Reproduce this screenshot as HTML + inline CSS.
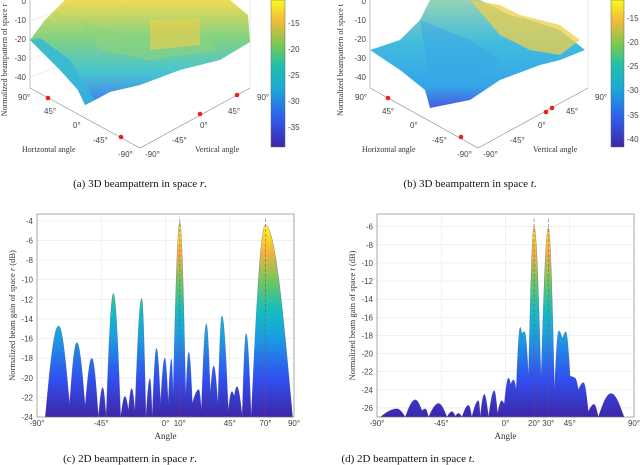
<!DOCTYPE html>
<html><head><meta charset="utf-8"><style>
html,body{margin:0;padding:0;background:#fff;width:640px;height:465px;overflow:hidden}
svg{display:block}
.tk{font-family:"Liberation Sans",sans-serif;font-size:8px;fill:#444}
.sf{font-family:"Liberation Serif",serif;fill:#333}
.cap{font-family:"Liberation Serif",serif;font-size:11px;fill:#111}
</style></head><body>
<svg id="fig" width="640" height="465" viewBox="0 0 640 465">
<defs>
<linearGradient id="parula" x1="0" y1="1" x2="0" y2="0">
<stop offset="0" stop-color="#3e26a8"/><stop offset="0.2" stop-color="#2f5fef"/>
<stop offset="0.4" stop-color="#1ba9d8"/><stop offset="0.55" stop-color="#1fc0aa"/>
<stop offset="0.7" stop-color="#7bca52"/><stop offset="0.85" stop-color="#f1b83a"/>
<stop offset="1" stop-color="#f9f91e"/></linearGradient>
<linearGradient id="surfA" x1="0" y1="0" x2="0" y2="1">
<stop offset="0" stop-color="#f2d84a"/><stop offset="0.35" stop-color="#7fd07a"/>
<stop offset="0.7" stop-color="#3cc1d0"/><stop offset="1" stop-color="#3b6ff0"/></linearGradient>
<linearGradient id="surfB" x1="0" y1="0" x2="0" y2="1">
<stop offset="0" stop-color="#8fd0b0"/><stop offset="0.4" stop-color="#36b8dc"/>
<stop offset="0.8" stop-color="#2aa0e6"/><stop offset="1" stop-color="#4050e0"/></linearGradient>
</defs>

<g>
<line x1="30" y1="0" x2="30" y2="88" stroke="#999" stroke-width="0.6"/>
<g stroke="#ddd" stroke-width="0.5"><line x1="30" y1="21" x2="140" y2="-20"/><line x1="30" y1="40" x2="140" y2="0"/><line x1="30" y1="59" x2="140" y2="20"/><line x1="30" y1="77" x2="140" y2="38"/></g>
<polyline points="30,88 140,148 250,88" fill="none" stroke="#888" stroke-width="0.6"/>
<line x1="250" y1="0" x2="250" y2="88" stroke="#ccc" stroke-width="0.5"/>
<polygon points="30,40 45,20 60,5 65,0 180,0 230,0 248,15 250,42 220,60 180,70 140,85 110,92 95,100 85,105 78,90 60,70" fill="url(#surfA)" opacity="0.95"/>
<polygon points="30,40 60,70 78,90 85,105 95,100 70,60 40,38" fill="#33b8d6" opacity="0.8"/>
<polygon points="80,20 140,40 200,30 220,50 150,60 100,50" fill="#8ed47a" opacity="0.55"/>
<polygon points="150,20 200,18 200,45 150,50" fill="#f0cf4a" opacity="0.6"/>
<text class="tk" x="26" y="4" text-anchor="end">0</text><text class="tk" x="26" y="23" text-anchor="end">-10</text>
<text class="tk" x="26" y="42" text-anchor="end">-20</text><text class="tk" x="26" y="61" text-anchor="end">-30</text>
<text class="tk" x="26" y="80" text-anchor="end">-40</text>
<text class="sf" font-size="8" transform="translate(7,60) rotate(-90)" text-anchor="middle">Normalized beampattern of space r</text>
<text class="tk" x="18" y="100">90°</text><text class="tk" x="44" y="114">45°</text><text class="tk" x="73" y="128">0°</text>
<text class="tk" x="93" y="143">-45°</text><text class="tk" x="118" y="157">-90°</text>
<text class="tk" x="145" y="157">-90°</text><text class="tk" x="172" y="143">-45°</text><text class="tk" x="200" y="128">0°</text>
<text class="tk" x="228" y="114">45°</text><text class="tk" x="257" y="100">90°</text>
<text class="sf" font-size="8" x="22" y="152">Horizontal angle</text>
<text class="sf" font-size="8" x="195" y="152">Vertical angle</text>
<g fill="#e82020"><circle cx="48" cy="98" r="2.3"/><circle cx="121" cy="137" r="2.3"/><circle cx="200" cy="114" r="2.3"/><circle cx="237" cy="95" r="2.3"/></g>
<rect x="271" y="0" width="14" height="147" fill="url(#parula)" stroke="#666" stroke-width="0.5"/>
<text class="tk" x="288" y="26">-15</text><text class="tk" x="288" y="52">-20</text><text class="tk" x="288" y="78">-25</text>
<text class="tk" x="288" y="104">-30</text><text class="tk" x="288" y="130">-35</text>
</g>

<g>
<line x1="370" y1="0" x2="370" y2="88" stroke="#999" stroke-width="0.6"/>
<polyline points="370,88 478,148 588,88" fill="none" stroke="#888" stroke-width="0.6"/>
<line x1="588" y1="0" x2="588" y2="88" stroke="#ccc" stroke-width="0.5"/>
<polygon points="370,50 400,40 420,20 430,0 480,0 510,15 530,20 560,30 585,50 560,60 540,65 500,80 470,100 430,108 425,90 400,70" fill="url(#surfB)" opacity="0.95"/>
<polygon points="470,0 500,5 520,15 560,25 580,40 560,55 530,50 500,35" fill="#efcf4c" opacity="0.75"/>
<polygon points="420,20 470,40 500,60 470,80 430,80" fill="#3aa5e6" opacity="0.5"/>
<text class="tk" x="366" y="4" text-anchor="end">0</text><text class="tk" x="366" y="23" text-anchor="end">-10</text>
<text class="tk" x="366" y="42" text-anchor="end">-20</text><text class="tk" x="366" y="61" text-anchor="end">-30</text>
<text class="tk" x="366" y="80" text-anchor="end">-40</text>
<text class="sf" font-size="8" transform="translate(343,60) rotate(-90)" text-anchor="middle">Normalized beampattern of space t</text>
<text class="tk" x="355" y="100">90°</text><text class="tk" x="382" y="114">45°</text><text class="tk" x="410" y="128">0°</text>
<text class="tk" x="432" y="143">-45°</text><text class="tk" x="457" y="157">-90°</text>
<text class="tk" x="483" y="157">-90°</text><text class="tk" x="510" y="143">-45°</text><text class="tk" x="538" y="128">0°</text>
<text class="tk" x="566" y="114">45°</text><text class="tk" x="595" y="100">90°</text>
<text class="sf" font-size="8" x="362" y="152">Horizontal angle</text>
<text class="sf" font-size="8" x="533" y="152">Vertical angle</text>
<g fill="#e82020"><circle cx="388" cy="98" r="2.3"/><circle cx="461" cy="137" r="2.3"/><circle cx="546" cy="112" r="2.3"/><circle cx="552" cy="108" r="2.3"/></g>
<rect x="611" y="0" width="13" height="147" fill="url(#parula)" stroke="#666" stroke-width="0.5"/>
<text class="tk" x="627" y="21">-15</text><text class="tk" x="627" y="45">-20</text><text class="tk" x="627" y="69">-25</text>
<text class="tk" x="627" y="93">-30</text><text class="tk" x="627" y="118">-35</text><text class="tk" x="627" y="142">-40</text>
</g>

<text class="cap" x="140" y="187" text-anchor="middle">(a) 3D beampattern in space <tspan font-style="italic">r</tspan>.</text>
<text class="cap" x="470" y="187" text-anchor="middle">(b) 3D beampattern in space <tspan font-style="italic">t</tspan>.</text>
<text class="cap" x="130" y="462" text-anchor="middle">(c) 2D beampattern in space <tspan font-style="italic">r</tspan>.</text>
<text class="cap" x="408" y="462" text-anchor="middle">(d) 2D beampattern in space <tspan font-style="italic">t</tspan>.</text>

<g id="chartC"></g>
<g id="chartD"></g>
</svg>
<script>
const rAngles=[-84.2,-74.9,-67.2,-62.1,-56.3,-51.6,-47,-44,-41.6,-36.5,-31.4,-28.4,-26,-23.7,-21.4,-16.7,-13.7,-10.9,-9.3,-6.3,-3.5,-0.5,1.9,4.2,5.3,10,14.2,16.3,18.8,23.3,25.1,28.6,31.4,33.7,36.7,39.5,44,46.5,48.1,50,53.7,56.5,60,70,89];
const rGains=[-24,-14.7,-22.7,-16.4,-22.9,-18,-24,-21,-24,-11.4,-24,-21.9,-23.3,-21.1,-23.4,-11.9,-24,-20.1,-24,-17,-22.6,-18,-22.6,-18.1,-21.9,-4.1,-21.9,-17.4,-22.6,-21.2,-23.3,-14.5,-21.6,-18.8,-22.7,-13.7,-23.3,-21.4,-21.9,-20.9,-23.9,-15.5,-24,-4.4,-24];
const rTickVals=[-90,-45,0,10,45,70,90];
const rTickLabels=["-90°","-45°","0°","10°","45°","70°","90°"];
const rYTicks=[-24,-22,-20,-18,-16,-14,-12,-10,-8,-6,-4];
const rTargets=[10,70];

const tAngles=[-87.7,-76,-70.2,-63.2,-58.5,-56.2,-53.9,-46.9,-41,-37.5,-35.2,-32.9,-30.5,-25.9,-23.6,-18.9,-17.7,-14.9,-11.9,-7.9,-5.6,-2.6,-0.9,2.1,3.7,5.6,7.5,10.3,11.4,13.3,16.1,20,24.9,30,34.3,37.3,39.9,42.2,45.2,48.7,51,54.6,58,62,65,73.9,83];
const tGains=[-27,-26.1,-27,-25.1,-26.3,-26.1,-27,-25.5,-27,-26.4,-26.9,-26.6,-27,-25.7,-27,-25.2,-27,-24.5,-27,-24.1,-26.6,-25.2,-25.6,-22.7,-23.4,-22.9,-24,-17.1,-17.8,-17.6,-22.5,-5.9,-22.9,-6.1,-24,-17.5,-18.4,-17.6,-22.5,-22.7,-24,-23.2,-26.4,-25.6,-27,-24.4,-27];
const tTickVals=[-90,-45,0,20,30,45,90];
const tTickLabels=["-90°","-45°","0°","20°","30°","45°","90°"];
const tYTicks=[-26,-24,-22,-20,-18,-16,-14,-12,-10,-8,-6];
const tTargets=[20,30];

const NS="http://www.w3.org/2000/svg";
function mk(tag,attrs,parent){const e=document.createElementNS(NS,tag);for(const k in attrs)e.setAttribute(k,attrs[k]);parent.appendChild(e);return e;}

function drawChart(g,id,box,yMin,yMax,angles,gains,xt,xl,yt,targets,ylabel){
  const sx=a=>box.x0+(a+90)/180*(box.x1-box.x0);
  const sy=v=>box.y1-(v-yMin)/(yMax-yMin)*(box.y1-box.y0);
  const bg=mk('rect',{x:box.x0,y:box.y0,width:box.x1-box.x0,height:box.y1-box.y0,fill:'#fff'},g);
  
  
  yt.forEach(v=>{const l=mk('line',{x1:box.x0,x2:box.x1,y1:sy(v),y2:sy(v),stroke:'#e6e6e6','stroke-width':0.6},g);
    
    const t=mk('text',{x:box.x0-4,y:sy(v)+3,'text-anchor':'end',class:'tk'},g);t.textContent=v;
    });
  xt.forEach((a,i)=>{const l=mk('line',{x1:sx(a),x2:sx(a),y1:box.y0,y2:box.y1,stroke:'#e6e6e6','stroke-width':0.6},g);
    
    const t=mk('text',{x:sx(a),y:box.y1+9,'text-anchor':'middle',class:'tk'},g);t.textContent=xl[i];
    });
  const gid='grad'+id;
  const lg=mk('linearGradient',{id:gid,gradientUnits:'userSpaceOnUse',x1:0,y1:box.y1,x2:0,y2:sy(yMax-1)},document.querySelector('defs'));
  [['0','#3e26a8'],['0.2','#3050f0'],['0.42','#1aa0e0'],['0.55','#12bec0'],['0.7','#6cc860'],['0.85','#f2b43c'],['1','#f9f91e']].forEach(s=>mk('stop',{offset:s[0],'stop-color':s[1]},lg));
  let d='M'+sx(angles[0])+','+box.y1;
  for(let i=0;i<angles.length-1;i++){
    const a0=angles[i],a1=angles[i+1],v0=gains[i],v1=gains[i+1];
    for(let k=0;k<=12;k++){const t=k/12;const a=a0+(a1-a0)*t;
      const f=(v1>v0)?Math.sin(Math.PI*t/2):(1-Math.cos(Math.PI*t/2));
      const v=v0+(v1-v0)*f;
      d+=' L'+sx(a).toFixed(2)+','+Math.min(box.y1,sy(v)).toFixed(2);}
  }
  d+=' L'+sx(angles[angles.length-1])+','+box.y1+' Z';
  const p=mk('path',{d:d,fill:'url(#'+gid+')',stroke:'#4a4a9a','stroke-width':0.3},g);
  
  
  targets.forEach(a=>{const l=mk('line',{x1:sx(a),x2:sx(a),y1:box.y1,y2:box.y0+4,stroke:'#c0392b','stroke-width':0.7,'stroke-dasharray':'3,2',opacity:0.7},g);
    });
  const fr=mk('rect',{x:box.x0,y:box.y0,width:box.x1-box.x0,height:box.y1-box.y0,fill:'none',stroke:'#777','stroke-width':0.6},g);
  
  const xt2=mk('text',{x:(box.x0+box.x1)/2,y:box.y1+22,'text-anchor':'middle',class:'sf','font-size':9},g);xt2.textContent='Angle';
  
  const yl=mk('text',{transform:'translate('+(box.x0-22)+','+((box.y0+box.y1)/2)+') rotate(-90)','text-anchor':'middle',class:'sf','font-size':8.5},g);
  yl.innerHTML=ylabel;
  
}
drawChart(document.getElementById('chartC'),'C',{x0:37,x1:294,y0:214,y1:417},-24,-3.3,rAngles,rGains,rTickVals,rTickLabels,rYTicks,rTargets,'Normalized beam gain of space <tspan font-style="italic">r</tspan> (dB)');
drawChart(document.getElementById('chartD'),'D',{x0:377,x1:634,y0:214,y1:417},-27,-4.6,tAngles,tGains,tTickVals,tTickLabels,tYTicks,tTargets,'Normalized beam gain of space <tspan font-style="italic">t</tspan> (dB)');
</script>
</body></html>
